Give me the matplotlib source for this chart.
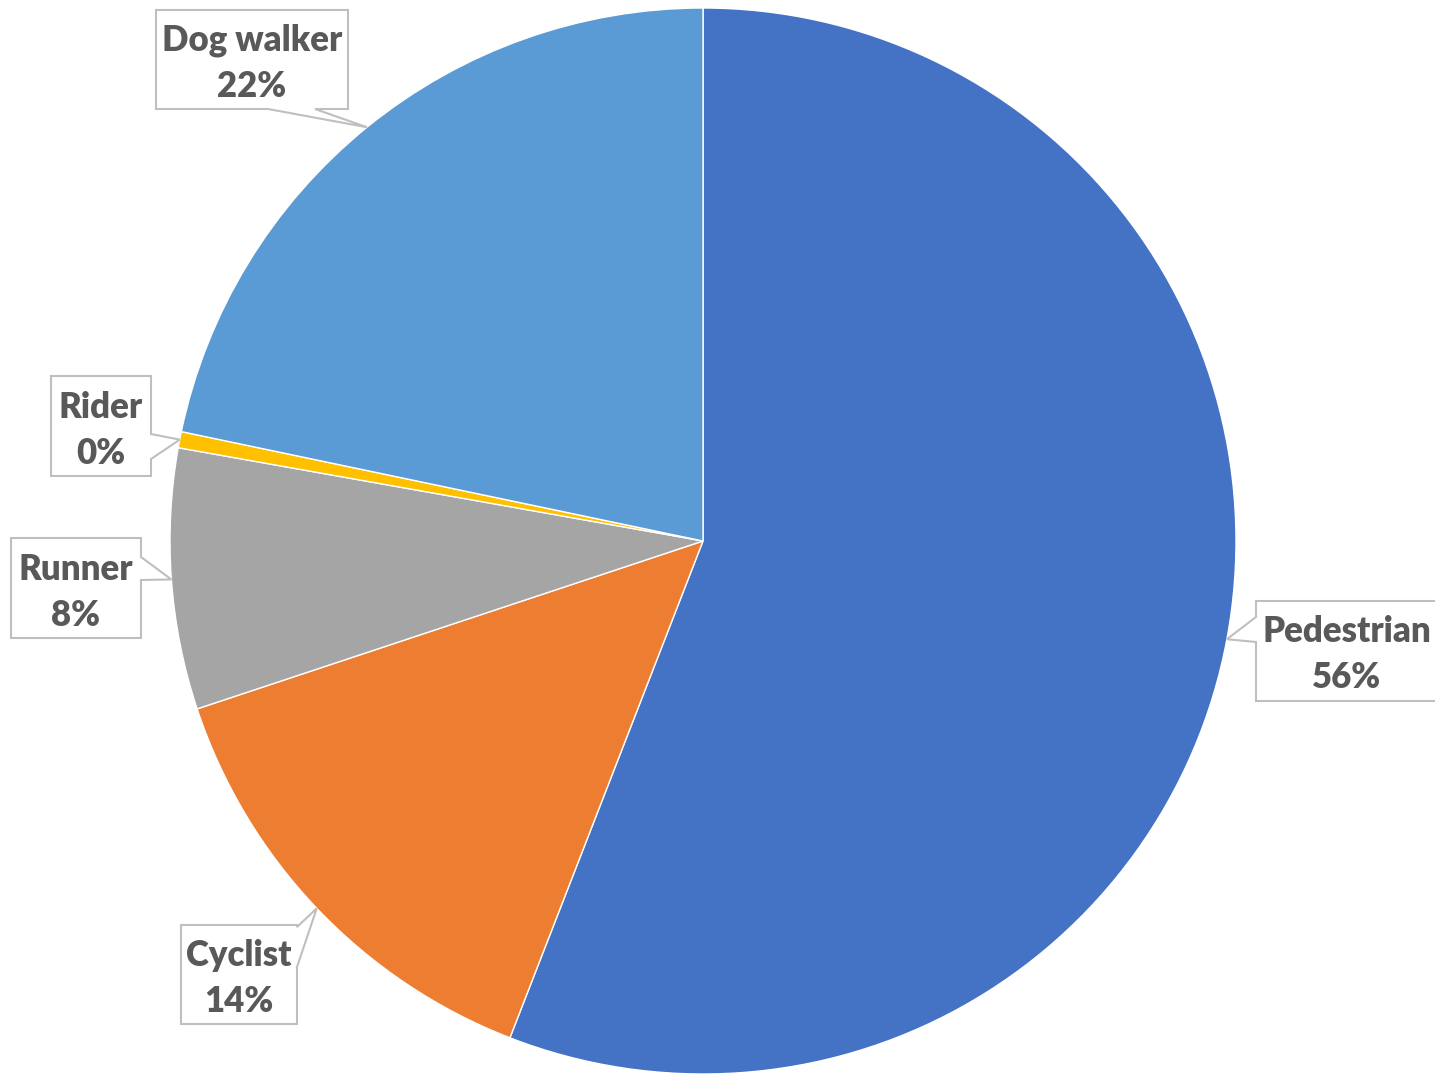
import matplotlib
matplotlib.use("Agg")
import matplotlib.pyplot as plt
from matplotlib.patches import Polygon
import numpy as np

categories = ["Pedestrian", "Cyclist", "Runner", "Rider", "Dog walker"]
values = [55.9, 14.0, 7.9, 0.49, 21.71]
colors = ["#4472C4", "#ED7D31", "#A5A5A5", "#FFC000", "#5B9BD5"]

W, H = 1435, 1075
fig = plt.figure(figsize=(W / 100, H / 100), dpi=100)

cx, cy, r = 703, 541, 533
ax = fig.add_axes([(cx - r) / W, (H - cy - r) / H, 2 * r / W, 2 * r / H])
ax.pie(values, colors=colors, startangle=90, counterclock=False, radius=1,
       wedgeprops=dict(edgecolor="white", linewidth=1))
ax.set_xlim(-1, 1)
ax.set_ylim(-1, 1)
ax.set_aspect("auto")
ax.axis("off")

ov = fig.add_axes([0, 0, 1, 1], zorder=5)
ov.set_xlim(0, W)
ov.set_ylim(H, 0)
ov.axis("off")
ov.patch.set_alpha(0)

# label boxes: (left, top, right, bottom), notch side, notch span
boxes = {
    "Pedestrian": ((1256, 601, 1440, 701), "left", (617, 642)),
    "Cyclist": ((181, 925, 297, 1024), "right", (927, 967)),
    "Runner": ((11, 538, 141, 638), "right", (557, 580)),
    "Rider": ((51, 376, 151, 476), "right", (434, 459)),
    "Dog walker": ((156, 10, 348, 109), "bottom", (268, 315)),
}

total = sum(values)
cum = 0.0
for cat, v in zip(categories, values):
    mid = (cum + v / 2) / total * 2 * np.pi
    cum += v
    tx = cx + r * np.sin(mid)
    ty = cy - r * np.cos(mid)
    (l, t, rr, b), side, (n1, n2) = boxes[cat]
    if side == "left":
        pts = [(l, t), (rr, t), (rr, b), (l, b), (l, n2), (tx, ty), (l, n1)]
    elif side == "right":
        pts = [(l, t), (rr, t), (rr, n1), (tx, ty), (rr, n2), (rr, b), (l, b)]
    else:  # bottom
        pts = [(l, t), (rr, t), (rr, b), (n2, b), (tx, ty), (n1, b), (l, b)]
    ov.add_patch(Polygon(pts, closed=True, facecolor="white", edgecolor="#BFBFBF",
                         linewidth=1.5, joinstyle="miter"))
    xc = (l + rr) / 2 if cat != "Pedestrian" else 1347
    yc = (t + b) / 2
    pct = f"{round(v / total * 100):.0f}%"
    kw = dict(ha="center", va="center", fontsize=25, fontweight="heavy",
              color="#595959", family=["Lato", "DejaVu Sans"])
    ov.text(xc, yc - 19, cat, **kw)
    ov.text(xc, yc + 27, pct, **kw)

fig.savefig("out.png", dpi=100)
